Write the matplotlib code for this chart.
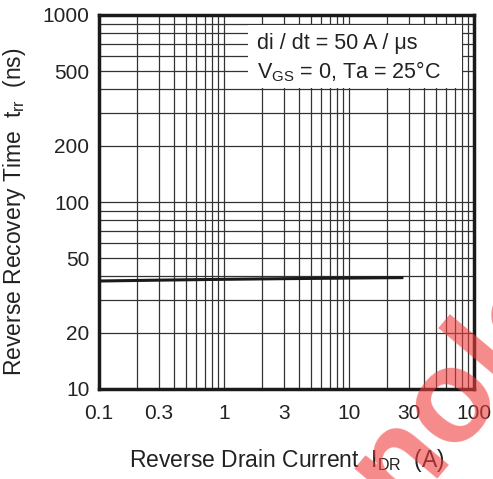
import numpy as np
import matplotlib.pyplot as plt
from matplotlib.patches import Rectangle
from matplotlib.ticker import FixedLocator, NullFormatter, LogLocator

plt.rcParams['font.family'] = ['Liberation Sans', 'DejaVu Sans']
plt.rcParams['mathtext.fontset'] = 'custom'
plt.rcParams['mathtext.rm'] = 'Liberation Sans'

# curve: reverse recovery time vs reverse drain current
idr = [0.1, 0.3, 1, 3, 10, 26.5]
trr = [37.8, 38.2, 38.6, 38.9, 39.2, 39.4]

x_ticks = [0.1, 0.3, 1, 3, 10, 30, 100]
x_labels = ['0.1', '0.3', '1', '3', '10', '30', '100']
y_ticks = [10, 20, 50, 100, 200, 500, 1000]
y_labels = ['10', '20', '50', '100', '200', '500', '1000']

fig = plt.figure(figsize=(4.93, 4.79), dpi=100)
ax = fig.add_axes([99 / 493, 1 - 389 / 479, 375 / 493, 374 / 479])

ax.set_xscale('log')
ax.set_yscale('log')
ax.set_xlim(0.1, 100)
ax.set_ylim(10, 1000)

ax.xaxis.set_major_locator(FixedLocator(x_ticks))
ax.xaxis.set_minor_locator(LogLocator(base=10, subs=np.arange(1, 10)))
ax.yaxis.set_major_locator(FixedLocator(y_ticks))
ax.yaxis.set_minor_locator(LogLocator(base=10, subs=np.arange(1, 10)))
ax.set_xticklabels(x_labels)
ax.set_yticklabels(y_labels)
ax.xaxis.set_minor_formatter(NullFormatter())
ax.yaxis.set_minor_formatter(NullFormatter())
ax.tick_params(which='both', length=0, labelsize=15, colors='#222222')
ax.tick_params(axis='x', pad=11)
ax.tick_params(axis='y', pad=7)

ax.grid(True, which='both', color='#333333', linewidth=0.9)
ax.set_axisbelow(True)
for s in ax.spines.values():
    s.set_linewidth(2.5)
    s.set_color('#1a1a1a')
    s.set_zorder(5)

ax.plot(idr, trr, color='#1a1a1a', linewidth=2.2, zorder=3)

# white condition box
ax.add_patch(Rectangle((0.397, 0.805), 0.571, 0.168, transform=ax.transAxes,
                       facecolor='white', edgecolor='none', zorder=4))
ax.text(0.421, 0.925, 'di / dt = 50 A / μs', transform=ax.transAxes,
        ha='left', va='center', fontsize=15.5, color='#222222', zorder=4)
ax.text(0.421, 0.848, '$\\mathregular{V_{GS}}$ = 0, Ta = 25°C', transform=ax.transAxes,
        ha='left', va='center', fontsize=15.5, color='#222222', zorder=4)

ax.set_xlabel('Reverse Drain Current  $\\mathregular{I_{DR}}$  (A)', fontsize=16.5,
              labelpad=17, color='#222222')
ax.set_ylabel('Reverse Recovery Time  $\\mathregular{t_{rr}}$  (ns)', fontsize=16.5,
              color='#222222')
ax.yaxis.set_label_coords(-0.19, 0.475)

# watermark
fig.text(0.852, 0.07, 'Technology', fontsize=95, color='#f03c3c', alpha=0.6,
         rotation=50, ha='center', va='center', fontweight='bold', zorder=10)

fig.savefig('out.png', dpi=100)
